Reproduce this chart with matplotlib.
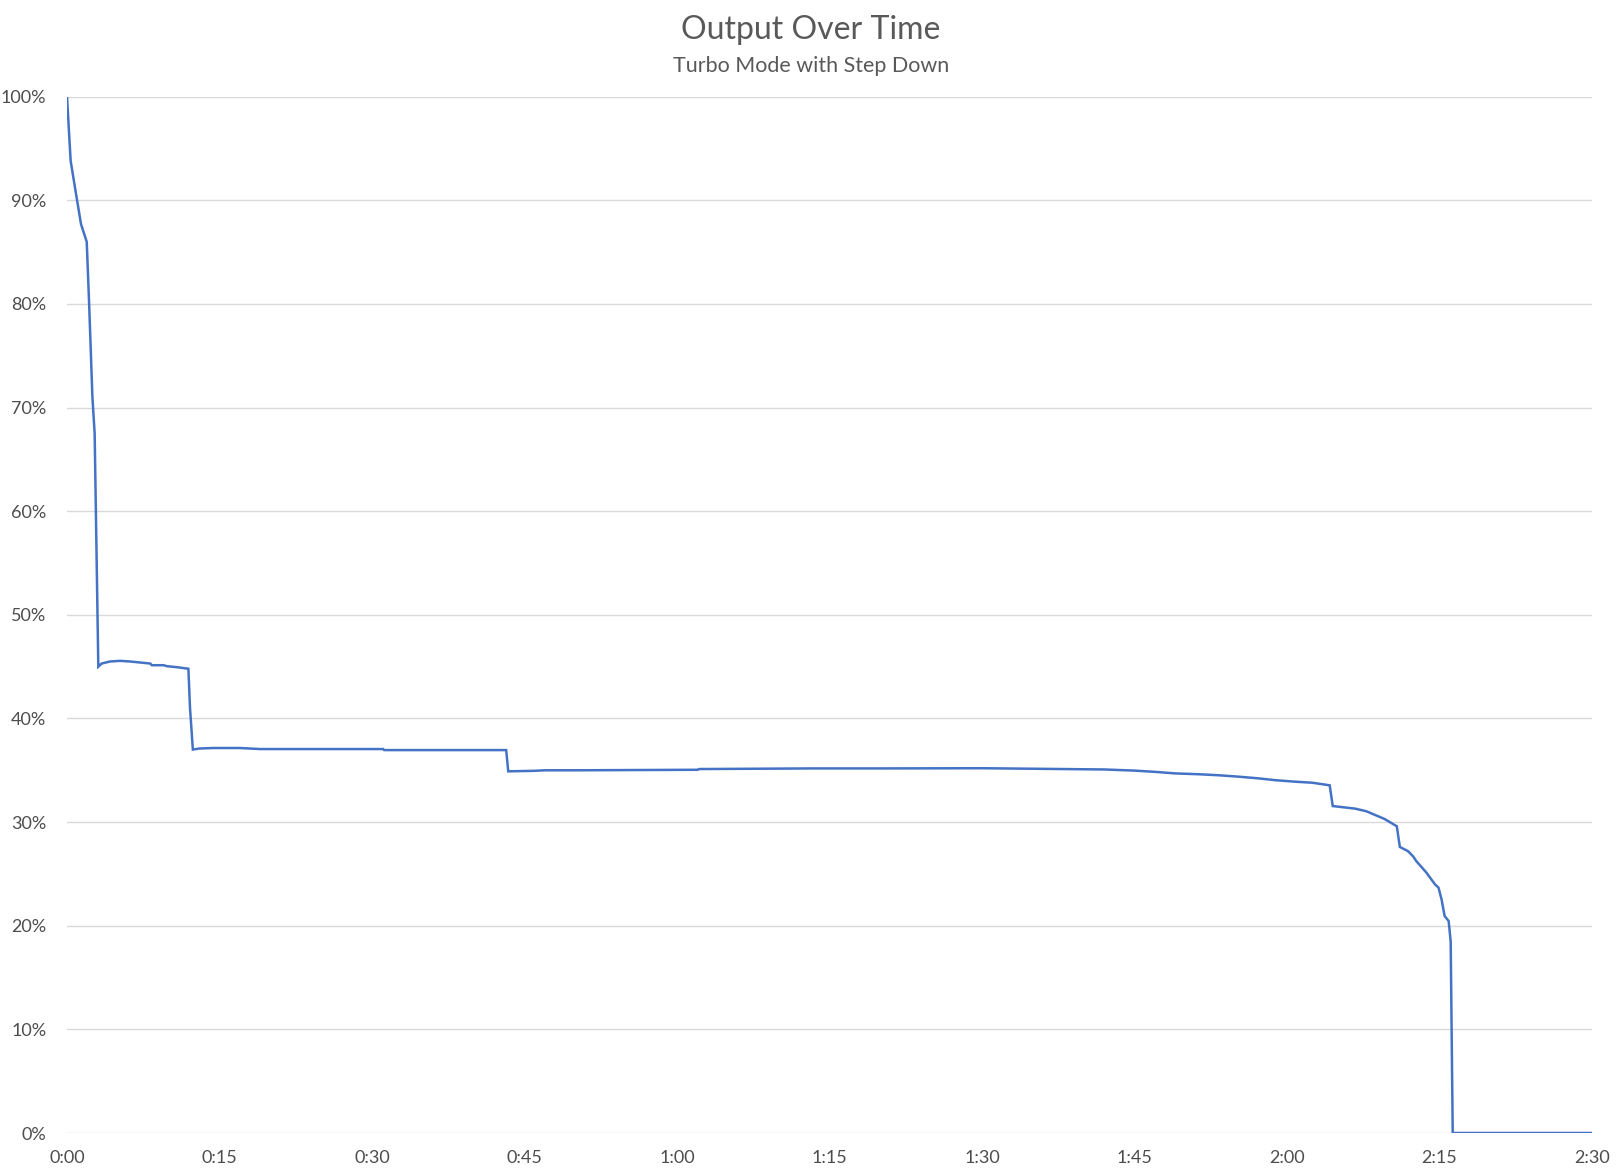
import matplotlib
matplotlib.use('Agg')
import matplotlib.pyplot as plt
from matplotlib.ticker import FixedLocator, FuncFormatter

plt.rcParams['font.family'] = ['Lato', 'DejaVu Sans']

# Data: elapsed time (minutes) and relative output (%)
minutes = [0, 0.36, 0.89, 1.38, 1.94, 2.17, 2.5, 2.72, 3.08, 3.4,
           4.24, 5.22, 6.2, 7.2, 8.2, 8.34, 9.5, 9.8, 10.8, 11.94,
           12.1, 12.38, 13.0, 14.4, 17.0, 19.0, 31.1, 31.2, 43.2, 43.4,
           46.0, 47.0, 50.0, 62.0, 62.2, 73.2, 80.0, 90.0, 102.0, 105.0,
           107.0, 109.0, 111.3, 113.3, 115.3, 117.2, 118.8, 120.8, 122.5, 124.2,
           124.5, 126.7, 127.8, 129.6, 130.8, 131.1, 131.9, 132.4, 132.7, 133.7,
           134.55, 134.9, 135.2, 135.5, 135.9, 136.1, 136.3, 150.0]
output_pct = [100, 93.8, 90.6, 87.7, 86.0, 80.2, 71.0, 67.5, 45.0, 45.3,
              45.5, 45.56, 45.5, 45.4, 45.3, 45.14, 45.14, 45.05, 44.95, 44.8,
              41.0, 37.0, 37.1, 37.15, 37.15, 37.05, 37.05, 36.95, 36.95, 34.9,
              34.95, 35.0, 35.0, 35.05, 35.12, 35.18, 35.18, 35.2, 35.08, 34.97,
              34.85, 34.7, 34.62, 34.52, 34.38, 34.22, 34.05, 33.9, 33.8, 33.55,
              31.55, 31.3, 31.05, 30.3, 29.6, 27.6, 27.2, 26.7, 26.26, 25.14,
              24.0, 23.68, 22.56, 20.95, 20.45, 18.5, 0, 0]

x_ticks = [0, 15, 30, 45, 60, 75, 90, 105, 120, 135, 150]
y_ticks = [0, 10, 20, 30, 40, 50, 60, 70, 80, 90, 100]

c_line = '#4472C4'
c_grid = '#D9D9D9'
c_text = '#595959'

fig = plt.figure(figsize=(16.22, 11.76), dpi=100)
W, H = 1622, 1176
left, right, top, bottom = 67, 1592, 96.7, 1133
ax = fig.add_axes([left / W, 1 - bottom / H, (right - left) / W, (bottom - top) / H])

ax.plot(minutes, output_pct, color=c_line, lw=1.8, zorder=3, solid_joinstyle='miter')

ax.set_xlim(0, 150)
ax.set_ylim(0, 100)
ax.xaxis.set_major_locator(FixedLocator(x_ticks))
ax.yaxis.set_major_locator(FixedLocator(y_ticks))
ax.xaxis.set_major_formatter(FuncFormatter(lambda v, p: f"{int(v) // 60}:{int(v) % 60:02d}"))
ax.yaxis.set_major_formatter(FuncFormatter(lambda v, p: f"{int(v)}%"))

ax.grid(axis='y', color=c_grid, lw=1.0, zorder=0)
ax.set_axisbelow(True)
for s in ax.spines.values():
    s.set_visible(False)
ax.tick_params(axis='both', length=0, labelsize=13, labelcolor='#4d4d4d')
ax.tick_params(axis='y', pad=15)
ax.tick_params(axis='x', pad=12)

fig.text(0.5, 1 - 30 / H, "Output Over Time", ha='center', va='center',
         fontsize=23, color=c_text)
fig.text(0.5, 1 - 66 / H, "Turbo Mode with Step Down", ha='center', va='center',
         fontsize=15.5, color=c_text)

fig.savefig('out.png', dpi=100)
